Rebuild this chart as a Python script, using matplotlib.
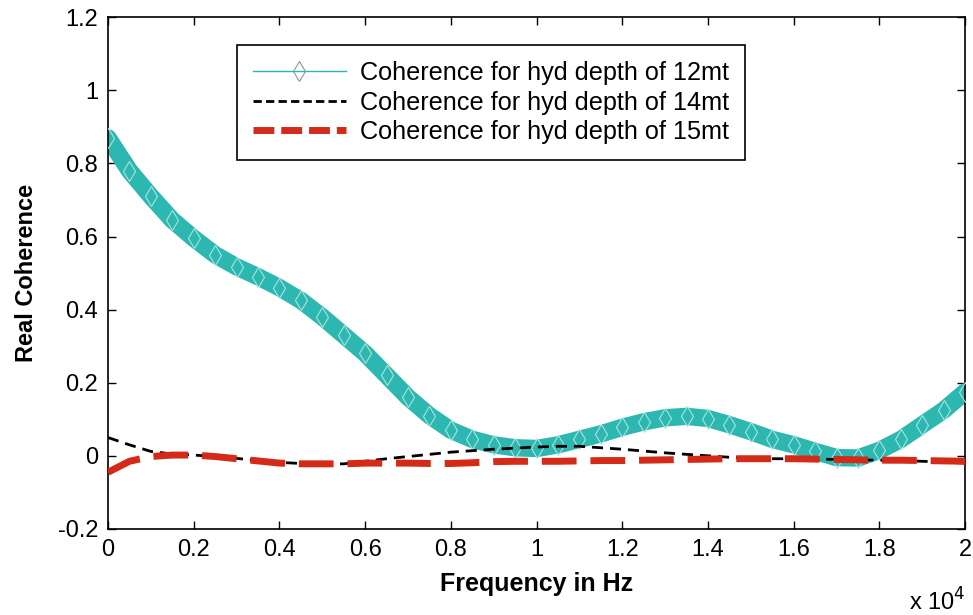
import numpy as np
import matplotlib
matplotlib.use("Agg")
import matplotlib.pyplot as plt

# frequency in units of 1e4 Hz
freq = [0.0, 0.05, 0.1, 0.15, 0.2, 0.25, 0.3, 0.35, 0.4, 0.45, 0.5, 0.55, 0.6, 0.65, 0.7,
        0.75, 0.8, 0.85, 0.9, 0.95, 1.0, 1.05, 1.1, 1.15, 1.2, 1.25, 1.3, 1.35, 1.4, 1.45,
        1.5, 1.55, 1.6, 1.65, 1.7, 1.75, 1.8, 1.85, 1.9, 1.95, 2.0]

coh12 = [0.87, 0.78, 0.71, 0.645, 0.595, 0.55, 0.517, 0.49, 0.46, 0.425, 0.38, 0.33, 0.28,
         0.22, 0.16, 0.11, 0.07, 0.045, 0.03, 0.022, 0.02, 0.03, 0.045, 0.06, 0.078, 0.093,
         0.104, 0.108, 0.102, 0.085, 0.066, 0.045, 0.03, 0.012, -0.005, -0.006, 0.015,
         0.045, 0.085, 0.125, 0.175]

coh14 = [0.05, 0.03, 0.012, 0.005, 0.002, -0.002, -0.007, -0.013, -0.018, -0.021, -0.022,
         -0.022, -0.015, -0.008, -0.002, 0.004, 0.01, 0.014, 0.018, 0.021, 0.024, 0.026,
         0.026, 0.022, 0.018, 0.013, 0.008, 0.004, 0.0, -0.004, -0.007, -0.008, -0.008,
         -0.009, -0.01, -0.011, -0.012, -0.013, -0.015, -0.017, -0.02]

coh15 = [-0.045, -0.015, -0.002, 0.002, 0.002, -0.002, -0.008, -0.014, -0.02, -0.022,
         -0.022, -0.022, -0.02, -0.02, -0.02, -0.021, -0.021, -0.019, -0.016, -0.015,
         -0.015, -0.015, -0.014, -0.013, -0.013, -0.012, -0.011, -0.01, -0.009, -0.008,
         -0.008, -0.008, -0.008, -0.009, -0.01, -0.011, -0.012, -0.012, -0.013, -0.014,
         -0.015]

xticks = [0, 0.2, 0.4, 0.6, 0.8, 1, 1.2, 1.4, 1.6, 1.8, 2]
yticks = [-0.2, 0, 0.2, 0.4, 0.6, 0.8, 1, 1.2]

teal = "#2db7b1"
red = "#d42a18"

plt.rcParams['font.family'] = ['Liberation Sans', 'DejaVu Sans']

fig = plt.figure(figsize=(9.73, 6.15), dpi=100)
ax = fig.add_axes([0.111, 0.140, 0.881, 0.832])

ax.plot(freq, coh12, color=teal, lw=12.5, solid_capstyle='round', zorder=2)
ax.plot(freq, coh12, ls='none', marker='d', ms=10, mfc='none', mec='#a6e3df', mew=0.8, zorder=3)
ax.plot(freq, coh14, color='black', lw=2, ls=(0, (4, 2.5)), zorder=4)
ax.plot(freq, coh15, color=red, lw=5, ls=(0, (5, 2)), zorder=5)

# legend proxies
h12, = ax.plot([], [], color=teal, lw=1, marker='d', ms=10, mfc='none', mec='#8a9a9a', mew=0.8)
h14, = ax.plot([], [], color='black', lw=2, ls=(0, (3, 1.5)))
h15, = ax.plot([], [], color=red, lw=5, ls=(0, (3, 1)))
leg = ax.legend([h12, h14, h15],
                ['Coherence for hyd depth of 12mt', 'Coherence for hyd depth of 14mt',
                 'Coherence for hyd depth of 15mt'],
                loc='upper left', bbox_to_anchor=(0.1505, 0.945), borderaxespad=0,
                fontsize=18.2, handlelength=3.7, handletextpad=0.55, borderpad=0.62,
                labelspacing=0.22, frameon=True, fancybox=False, edgecolor='black',
                framealpha=1)
leg.get_frame().set_linewidth(1.2)

ax.set_xlim(0, 2)
ax.set_ylim(-0.2, 1.2)
ax.set_xticks(xticks)
ax.set_xticklabels([f"{t:g}" for t in xticks])
ax.set_yticks(yticks)
ax.set_yticklabels([f"{t:g}" for t in yticks])
ax.tick_params(direction='in', length=6, width=1, labelsize=17, top=True, right=True, pad=7)
for s in ax.spines.values():
    s.set_linewidth(1.2)

ax.set_xlabel('Frequency in Hz', fontsize=18, fontweight='bold', labelpad=8)
ax.set_ylabel('Real Coherence', fontsize=17, fontweight='bold', labelpad=14)
ax.text(1.0, -0.117, r'x 10$^4$', transform=ax.transAxes, ha='right', va='top', fontsize=17)

fig.savefig('out.png', dpi=100)
